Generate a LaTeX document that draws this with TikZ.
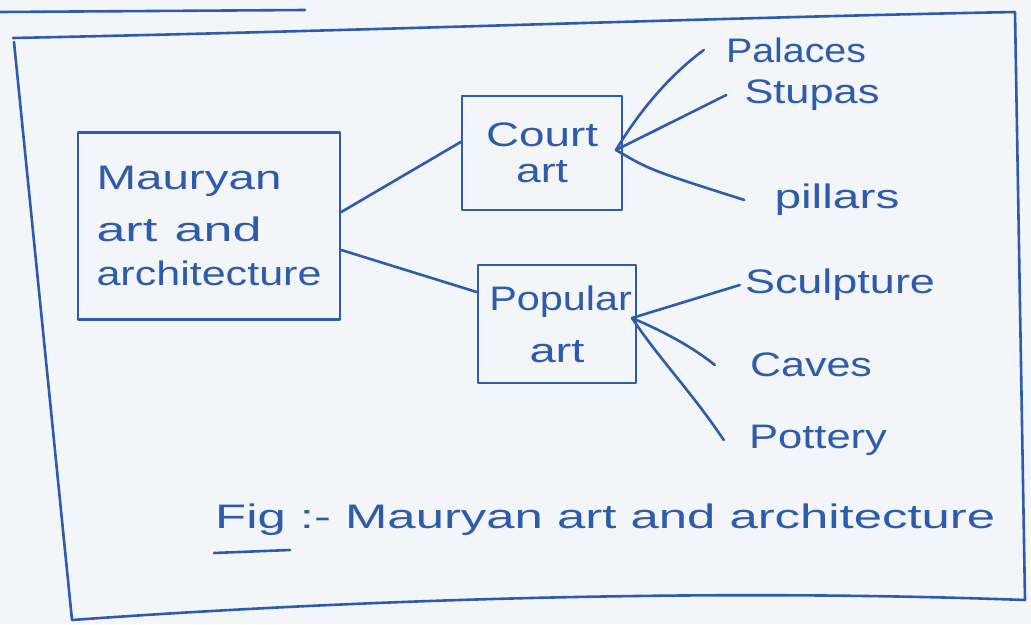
\documentclass[tikz,border=0pt]{standalone}
\usepackage{fontspec}
\usepackage{graphicx}
\setmainfont{Liberation Sans}
\definecolor{ink}{RGB}{45,92,172}
\definecolor{paper}{RGB}{244,245,248}
\newcommand{\hw}[2]{\resizebox{#1}{\height}{#2}}
\begin{document}
\begin{tikzpicture}[x=1pt,y=-1pt,
  ink/.style={draw=ink,line width=2.6pt,line cap=round,line join=round},
  box/.style={ink,rectangle,inner sep=0pt,align=center,text=ink,font=\fontsize{34}{50}\selectfont},
  lbl/.style={text=ink,inner sep=0pt,font=\fontsize{34}{40}\selectfont},
]
\fill[paper] (0,0) rectangle (1031,624);
\useasboundingbox (0,0) rectangle (1031,624);
% cut-off underline at top
\draw[ink] (0,12) -- (305,10);
% outer frame
\draw[ink] (13,38) .. controls (400,30) and (700,18) .. (1015,12) -- (1025,600)
  .. controls (700,588) and (350,600) .. (72,620) -- (14,42);
% boxes
\node[box,minimum width=262pt,minimum height=187pt,align=left,text width=225pt] (main) at (209,226)
  {\hw{185pt}{Mauryan}\\[2pt]\hw{165pt}{art and}\\[-6pt]\hw{225pt}{architecture}};
\node[box,minimum width=160pt,minimum height=114pt] (court) at (542,153)
  {\hw{112pt}{Court}\\[-14pt]\hw{52pt}{art}};
\node[box,minimum width=158pt,minimum height=118pt] (pop) at (557,324)
  {\hw{150pt}{\kern6ptPopular}\\[2pt]\hw{55pt}{art}};
% hubs
\coordinate (ch) at (616,150);
\coordinate (ph) at (632,318);
% labels
\node[lbl] (palaces) at (796,50) {\hw{140pt}{Palaces}};
\node[lbl] (stupas) at (812,95) {\hw{135pt}{Stupas}};
\node[lbl] (pillars) at (837,200) {\hw{125pt}{pillars}};
\node[lbl] (sculpture) at (840,285) {\hw{190pt}{Sculpture}};
\node[lbl] (caves) at (811,365) {\hw{122pt}{Caves}};
\node[lbl] (pottery) at (818,440) {\hw{138pt}{Pottery}};
% connectors
\draw[ink] (main.east |- 0,212) -- (court.west |- 0,142);
\draw[ink] (main.east |- 0,250) -- (pop.west |- 0,292);
\draw[ink] (ch) .. controls (640,110) and (670,75) .. ([xshift=-22pt]palaces.west);
\draw[ink] (ch) -- ([xshift=-18pt]stupas.west);
\draw[ink] (ch) .. controls (650,170) .. ([xshift=-30pt]pillars.west);
\draw[ink] (ph) -- ([xshift=-5pt]sculpture.west);
\draw[ink] (ph) .. controls (660,330) and (690,345) .. ([xshift=-35pt]caves.west);
\draw[ink] (ph) .. controls (660,360) and (690,390) .. ([xshift=-25pt]pottery.west);
% caption
\node[lbl,anchor=west] (fig) at (215,520) {\hw{780pt}{Fig :- Mauryan art and architecture}};
\draw[ink] (214,553) -- (290,550);
\end{tikzpicture}
\end{document}
